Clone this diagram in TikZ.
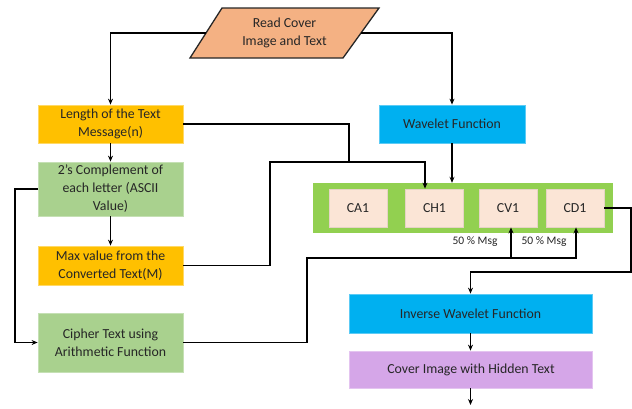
\documentclass[tikz,border=0pt]{standalone}
\usepackage{fontspec}
\setmainfont{Carlito}
\usetikzlibrary{arrows.meta}
\definecolor{txt}{HTML}{262626}
\definecolor{paraC}{HTML}{F4B183}
\definecolor{goldC}{HTML}{FFC000}
\definecolor{goldB}{HTML}{FFD966}
\definecolor{greenC}{HTML}{A9D18E}
\definecolor{greenB}{HTML}{C5E0B4}
\definecolor{blueC}{HTML}{00B0F0}
\definecolor{blueB}{HTML}{5CCBF5}
\definecolor{contC}{HTML}{92D050}
\definecolor{pinkC}{HTML}{FBE5D6}
\definecolor{pinkB}{HTML}{E6D3C6}
\definecolor{purpC}{HTML}{D5A6E8}
\definecolor{purpB}{HTML}{E4C4F0}
\tikzset{
  box/.style={rectangle, inner sep=0pt, align=center, text=txt, font=\fontsize{13.8}{18}\selectfont, line width=0.8pt},
  goldbox/.style={box, fill=goldC, draw=goldB},
  greenbox/.style={box, fill=greenC, draw=greenB},
  bluebox/.style={box, fill=blueC, draw=blueB},
  purpbox/.style={box, fill=purpC, draw=purpB},
  coefbox/.style={box, fill=pinkC, draw=pinkB, minimum width=58, minimum height=38},
  line/.style={draw=black, line width=1.7pt},
  arr/.style={line, -{Stealth[length=6pt,width=5pt]}},
  lbl/.style={text=txt, font=\fontsize{11.5}{13}\selectfont, inner sep=0pt}
}
\begin{document}
\begin{tikzpicture}[x=1pt,y=-1pt]
\useasboundingbox (0,0) rectangle (632,408);
% parallelogram
\draw[fill=paraC, draw=txt, line width=1.3pt] (190,58) -- (222,8) -- (379,8) -- (343,58) -- cycle;
\node[box] (read) at (284.5,33) {Read Cover\\Image and Text};
\coordinate (readL) at (206,33);
\coordinate (readR) at (361,33);
% left column
\node[goldbox, minimum width=145, minimum height=38] (len) at (110.5,124) {Length of the Text\\Message(n)};
\node[greenbox, minimum width=145, minimum height=54] (twos) at (110.5,189) {2’s Complement of\\each letter (ASCII\\Value)};
\node[goldbox, minimum width=145, minimum height=39] (max) at (110.5,265.5) {Max value from the\\Converted Text(M)};
\node[greenbox, minimum width=145, minimum height=59] (ciph) at (110.5,342.5) {Cipher Text using\\Arithmetic Function};
% right column
\node[bluebox, minimum width=146, minimum height=38] (wav) at (452,124) {Wavelet Function};
\node[rectangle, fill=contC, minimum width=300, minimum height=50, inner sep=0pt] (cont) at (463,208) {};
\node[coefbox] (ca1) at (358,208) {CA1};
\node[coefbox] (ch1) at (434.5,208) {CH1};
\node[coefbox] (cv1) at (508,208) {CV1};
\node[coefbox] (cd1) at (575,208) {CD1};
\node[lbl] (m1) at (475,242) {50 \% Msg};
\node[lbl] (m2) at (544,242) {50 \% Msg};
\node[bluebox, minimum width=243, minimum height=39] (inv) at (470.5,313.5) {Inverse Wavelet Function};
\node[purpbox, minimum width=243, minimum height=37] (cov) at (471,369.5) {Cover Image with Hidden Text};
% junction coordinates
\coordinate (j1) at (349,162);
\coordinate (j2) at (270,162);
\coordinate (j3) at (425,162);
\coordinate (k1) at (307,258);
\coordinate (k2) at (511,258);
\coordinate (k3) at (576,258);
\coordinate (r1) at (631,272);
\coordinate (r2) at (470.5,272);
\coordinate (endp) at (470.5,405);
\coordinate (lft) at (15,189);
% connectors
\draw[arr] (readL) -| (len.north);
\draw[arr] (readR) -| (wav.north);
\draw[arr] (len.south) -- (twos.north);
\draw[arr] (twos.south) -- (max.north);
\draw[line] (len.east) -| (j1);
\draw[arr] (max.east) -| (j2) -- (j3) -- (j3 |- ch1.north);
\draw[arr] (twos.west) -- (lft) |- (ciph.west);
\draw[arr] (ciph.east) -| (k1) -- (k3) -- (k3 |- cd1.south);
\draw[arr] (k2) -- (k2 |- cv1.south);
\draw[arr] (wav.south) -- (wav.south |- cont.north);
\draw[arr] (cd1.east) -| (r1) -- (r2) -- (inv.north);
\draw[arr] (inv.south) -- (inv.south |- cov.north);
\draw[arr] (inv.south |- cov.south) -- (endp);
\end{tikzpicture}
\end{document}
